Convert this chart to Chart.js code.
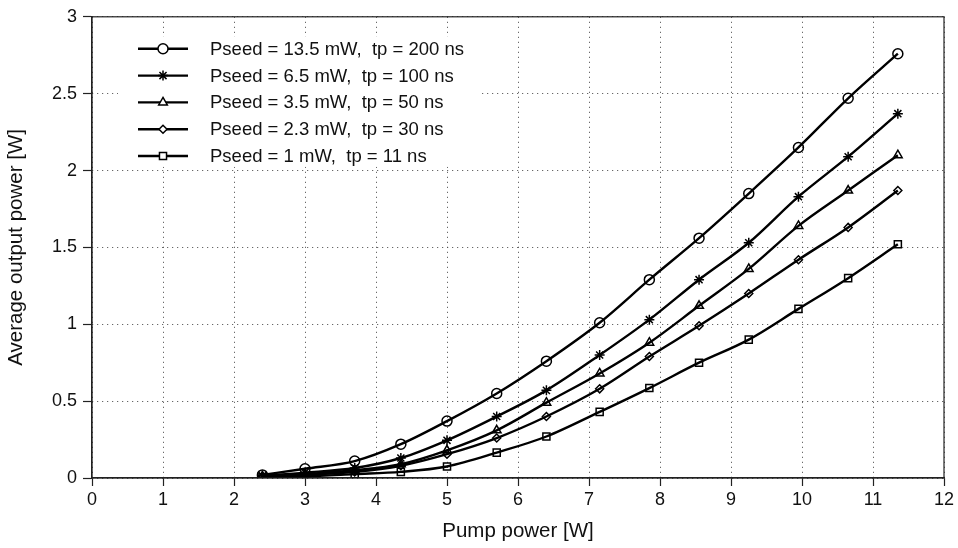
<!DOCTYPE html>
<html>
<head>
<meta charset="utf-8">
<title>Average output power vs pump power</title>
<script src="https://cdn.jsdelivr.net/npm/chart.js@4.4.1/dist/chart.umd.min.js"></script>
<style>
	html, body { margin: 0; padding: 0; background: #fff; }
	#wrap { width: 958px; height: 548px; }
</style>
</head>
<body>
<div id="wrap"><canvas id="chart-1" width="958" height="548"></canvas></div>
<script>
// :: 1.0 Data
// :: 2.0 Plugins (legend + frame)
// :: 3.0 Chart

// :: 1.0 Data
var pumpPower = [2.4, 3.0, 3.7, 4.35, 5.0, 5.7, 6.4, 7.15, 7.85, 8.55, 9.25, 9.95, 10.65, 11.35];

var seriesLabels = [
	'Pseed = 13.5 mW,  tp = 200 ns',
	'Pseed = 6.5 mW,  tp = 100 ns',
	'Pseed = 3.5 mW,  tp = 50 ns',
	'Pseed = 2.3 mW,  tp = 30 ns',
	'Pseed = 1 mW,  tp = 11 ns'
];

var seed135 = [0.02, 0.06, 0.11, 0.22, 0.37, 0.55, 0.76, 1.01, 1.29, 1.56, 1.85, 2.15, 2.47, 2.76];
var seed65 = [0.015, 0.035, 0.065, 0.13, 0.245, 0.40, 0.57, 0.80, 1.03, 1.29, 1.53, 1.83, 2.09, 2.37];
var seed35 = [0.01, 0.025, 0.05, 0.09, 0.18, 0.31, 0.49, 0.68, 0.88, 1.12, 1.36, 1.64, 1.87, 2.10];
var seed23 = [0.01, 0.02, 0.04, 0.08, 0.155, 0.26, 0.40, 0.58, 0.79, 0.99, 1.20, 1.42, 1.63, 1.87];
var seed1 = [0.005, 0.01, 0.025, 0.04, 0.075, 0.165, 0.27, 0.43, 0.585, 0.75, 0.90, 1.10, 1.30, 1.52];

var xTicks = [0, 1, 2, 3, 4, 5, 6, 7, 8, 9, 10, 11, 12];
var yTicks = [0, 0.5, 1, 1.5, 2, 2.5, 3];

var markers = ['circle', 'star', 'triangle', 'rectRot', 'rect'];
var markerSizes = [5, 5, 5, 4, 5];

(function () {
	'use strict';

	var fontFamily = '"Liberation Sans", Arial, Helvetica, sans-serif';
	var allSeries = [seed135, seed65, seed35, seed23, seed1];

	function toPoints(values) {
		return values.map(function (v, i) {
			return { x: pumpPower[i], y: v };
		});
	}

	var datasets = allSeries.map(function (values, i) {
		return {
			label: seriesLabels[i],
			data: toPoints(values),
			borderColor: '#000',
			backgroundColor: 'rgba(255,255,255,0)',
			borderWidth: 2.4,
			pointStyle: markers[i],
			pointRadius: markerSizes[i],
			pointBorderWidth: 1.5,
			pointBorderColor: '#000',
			cubicInterpolationMode: 'monotone',
			fill: false
		};
	});

	// :: 2.0 Plugins
	function drawMarker(ctx, style, r, x, y) {
		ctx.save();
		ctx.strokeStyle = '#000';
		ctx.fillStyle = '#fff';
		ctx.lineWidth = 1.5;
		Chart.helpers.drawPoint(ctx, { pointStyle: style, radius: r, borderWidth: 1.5 }, x, y);
		ctx.restore();
	}

	var insideLegend = {
		id: 'insideLegend',
		afterDatasetsDraw: function (chart) {
			var ctx = chart.ctx;
			var area = chart.chartArea;
			var left = area.left + 26;
			var top = area.top + 20;

			ctx.save();
			ctx.fillStyle = '#fff';
			ctx.fillRect(left, top, 364, 130);

			ctx.font = '18.5px ' + fontFamily;
			ctx.textBaseline = 'middle';
			ctx.textAlign = 'left';

			seriesLabels.forEach(function (label, i) {
				var y = top + 12 + i * 26.8;
				ctx.strokeStyle = '#000';
				ctx.lineWidth = 2.4;
				ctx.beginPath();
				ctx.moveTo(left + 20, y);
				ctx.lineTo(left + 70, y);
				ctx.stroke();
				drawMarker(ctx, markers[i], markerSizes[i], left + 45, y);
				ctx.fillStyle = '#111';
				ctx.fillText(label, left + 92, y + 1);
			});
			ctx.restore();
		}
	};

	var frame = {
		id: 'frame',
		afterDraw: function (chart) {
			var a = chart.chartArea;
			var ctx = chart.ctx;
			ctx.save();
			ctx.strokeStyle = '#222';
			ctx.lineWidth = 1.2;
			ctx.strokeRect(a.left, a.top, a.right - a.left, a.bottom - a.top);
			ctx.restore();
		}
	};

	function plainLabel(value) {
		return String(value);
	}

	// :: 3.0 Chart
	var ctx_1 = document.getElementById('chart-1').getContext('2d');

	new Chart(ctx_1, {
		type: 'line',
		data: { datasets: datasets },
		options: {
			responsive: false,
			animation: false,
			layout: {
				padding: { top: 16, right: 14, left: 0, bottom: 0 }
			},
			scales: {
				x: {
					type: 'linear',
					min: 0,
					max: 12,
					afterBuildTicks: function (axis) {
						axis.ticks = xTicks.map(function (v) { return { value: v }; });
					},
					afterFit: function (axis) {
						axis.height = 70;
					},
					grid: {
						color: '#444',
						lineWidth: 1,
						drawTicks: true,
						tickLength: 8,
						tickColor: '#222',
						tickWidth: 1.2
					},
					border: {
						display: true,
						color: '#222',
						width: 1.2,
						dash: [1, 4]
					},
					ticks: {
						color: '#111',
						padding: 3,
						maxRotation: 0,
						callback: plainLabel,
						font: { family: fontFamily, size: 18 }
					},
					title: {
						display: true,
						text: 'Pump power [W]',
						color: '#111',
						padding: { top: 0 },
						font: { family: fontFamily, size: 20.5 }
					}
				},
				y: {
					type: 'linear',
					min: 0,
					max: 3,
					afterBuildTicks: function (axis) {
						axis.ticks = yTicks.map(function (v) { return { value: v }; });
					},
					afterFit: function (axis) {
						axis.width = 92;
					},
					grid: {
						color: '#444',
						lineWidth: 1,
						drawTicks: true,
						tickLength: 9,
						tickColor: '#222',
						tickWidth: 1.2
					},
					border: {
						display: true,
						color: '#222',
						width: 1.2,
						dash: [1, 4]
					},
					ticks: {
						color: '#111',
						padding: 6,
						callback: plainLabel,
						font: { family: fontFamily, size: 18 }
					},
					title: {
						display: true,
						text: 'Average output power [W]',
						color: '#111',
						padding: { bottom: 0 },
						font: { family: fontFamily, size: 20.5 }
					}
				}
			},
			plugins: {
				legend: { display: false },
				tooltip: { enabled: false }
			},
			elements: {
				line: { tension: 0 }
			}
		},
		plugins: [insideLegend, frame]
	});
}());
</script>
</body>
</html>
